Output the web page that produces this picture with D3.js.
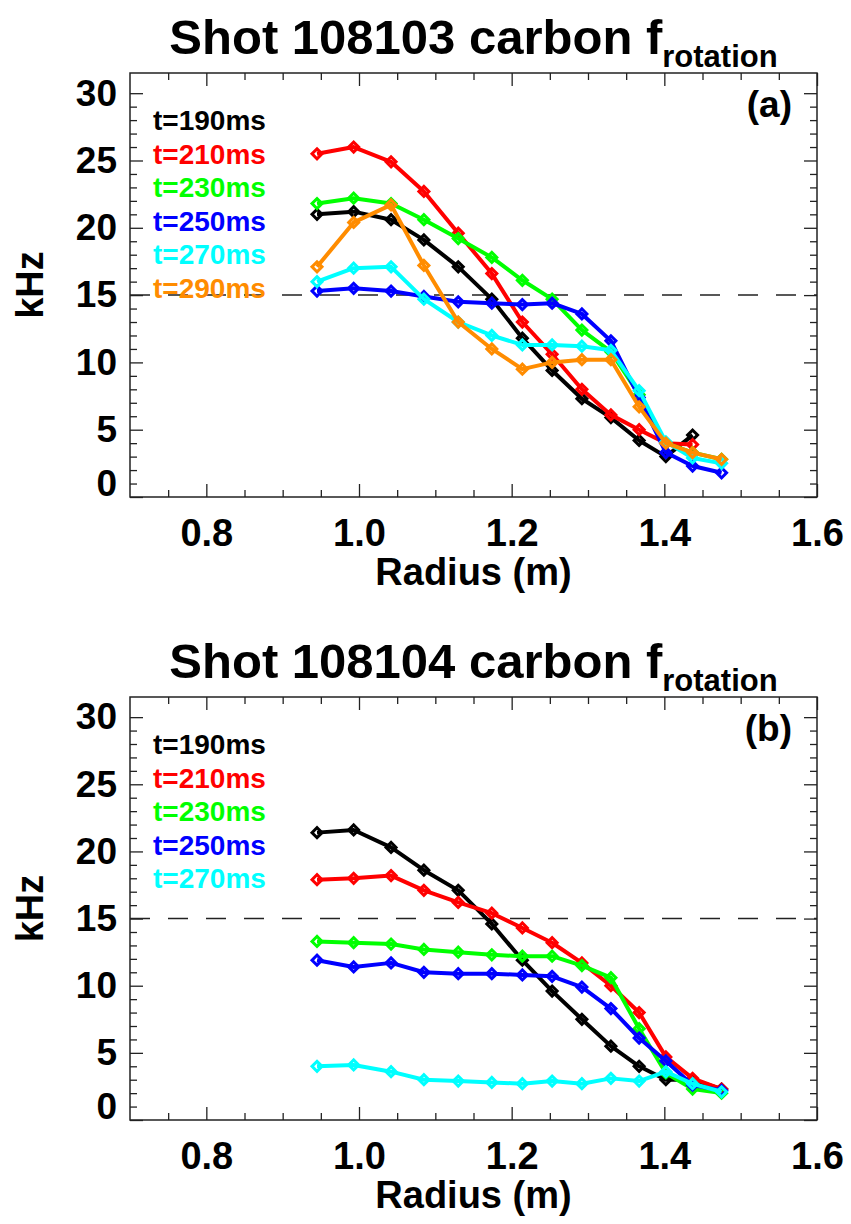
<!DOCTYPE html>
<html>
<head>
<meta charset="utf-8">
<script src="https://cdn.jsdelivr.net/npm/d3@7"></script>
<style>
  body { margin: 0; background: #fff; }
  text { font-family: "Liberation Sans", Arial, Helvetica, sans-serif; font-weight: bold; }
</style>
</head>
<body>
<div id="chart"></div>
<script>
// radius of each measurement chord (m)
const radius = [0.945, 0.993, 1.042, 1.085, 1.130, 1.174, 1.214, 1.253, 1.292, 1.330, 1.367, 1.402, 1.437, 1.475];

const times = ["t=190ms", "t=210ms", "t=230ms", "t=250ms", "t=270ms", "t=290ms"];
const colors = ["#000000", "#ff0000", "#00ff00", "#0000ff", "#00ffff", "#ff8c00"];

// shot 108103 (kHz), null = no point
const shotA_190 = [21.0, 21.2, 20.6, 19.1, 17.1, 14.7, 11.8, 9.4, 7.3, 5.9, 4.2, 3.0, 4.6, null];
const shotA_210 = [25.5, 26.0, 24.9, 22.7, 19.6, 16.6, 13.0, 10.6, 8.0, 6.1, 5.0, 4.0, 3.9, null];
const shotA_230 = [21.8, 22.2, 21.8, 20.6, 19.2, 17.8, 16.1, 14.7, 12.4, 10.8, 7.6, 4.0, 3.3, 2.8];
const shotA_250 = [15.3, 15.5, 15.3, 14.9, 14.5, 14.4, 14.3, 14.4, 13.6, 11.6, 7.4, 3.3, 2.3, 1.8];
const shotA_270 = [16.0, 17.0, 17.1, 14.7, 13.0, 12.0, 11.3, 11.3, 11.2, 10.9, 7.9, 4.1, 2.9, 2.5];
const shotA_290 = [17.1, 20.4, 21.7, 17.2, 13.0, 11.0, 9.5, 10.0, 10.2, 10.2, 6.7, 4.0, 3.3, 2.8];

// shot 108104 (kHz)
const shotB_190 = [21.4, 21.6, 20.3, 18.6, 17.1, 14.6, 11.9, 9.6, 7.5, 5.5, 4.0, 3.0, 3.0, 2.3];
const shotB_210 = [17.9, 18.0, 18.2, 17.1, 16.2, 15.4, 14.3, 13.2, 11.7, 10.0, 8.0, 4.7, 3.1, 2.3];
const shotB_230 = [13.3, 13.2, 13.1, 12.7, 12.5, 12.3, 12.2, 12.2, 11.5, 10.6, 6.8, 3.5, 2.3, 2.0];
const shotB_250 = [11.9, 11.4, 11.7, 11.0, 10.9, 10.9, 10.8, 10.7, 9.9, 8.3, 6.1, 4.4, 2.6, 2.2];
const shotB_270 = [4.0, 4.1, 3.6, 3.0, 2.9, 2.8, 2.7, 2.9, 2.7, 3.1, 2.9, 3.6, 2.7, 2.1];

const xTicks = [0.8, 1.0, 1.2, 1.4, 1.6];
const yTicks = [0, 5, 10, 15, 20, 25, 30];
const refLine = 15;

const layout = {
  width: 851,
  height: 1224,
  left: 130,
  right: 817,
  tickMajor: 13,
  tickMinor: 7
};

const svg = d3.select("#chart").append("svg")
  .attr("width", layout.width)
  .attr("height", layout.height)
  .attr("viewBox", [0, 0, layout.width, layout.height].join(" "));

svg.append("rect").attr("width", layout.width).attr("height", layout.height).attr("fill", "#fff");

const xScale = d3.scaleLinear().domain([0.7, 1.6]).range([layout.left, layout.right]);
const xMinor = d3.range(0.75, 1.6, 0.05).filter(v => xTicks.every(t => Math.abs(t - v) > 0.01));
const yMinor = d3.range(1, 31, 1).filter(v => v % 5 !== 0);

function drawPanel(p) {
  const yScale = d3.scaleLinear().domain([0, 31.5]).range([p.bottom, p.top]);
  const g = svg.append("g");

  // title with subscript
  const title = g.append("text")
    .attr("x", (layout.left + layout.right) / 2)
    .attr("y", p.top - 19)
    .attr("text-anchor", "middle")
    .attr("font-size", 49)
    .attr("fill", "#000");
  title.append("tspan").text(p.title + " carbon f");
  title.append("tspan").attr("font-size", 31).attr("dy", 13).text("rotation");

  // axes, ticks pointing inward
  const tickStyle = a => {
    a.select(".domain").remove();
    a.selectAll("line").attr("stroke", "#222").attr("stroke-width", 1.3);
    a.selectAll("text").attr("font-size", 37).attr("fill", "#000")
      .style("font-family", "'Liberation Sans', Arial, sans-serif").style("font-weight", "bold");
  };
  const bottomG = g.append("g").attr("transform", `translate(0,${p.bottom})`);
  bottomG.call(d3.axisBottom(xScale).tickValues(xTicks).tickSize(-layout.tickMajor).tickPadding(22).tickFormat(d3.format(".1f"))).call(tickStyle);
  bottomG.selectAll("text").attr("font-size", 38);
  g.append("g").attr("transform", `translate(0,${p.bottom})`)
    .call(d3.axisBottom(xScale).tickValues(xMinor).tickSize(-layout.tickMinor).tickFormat("")).call(tickStyle);
  g.append("g").attr("transform", `translate(0,${p.top})`)
    .call(d3.axisTop(xScale).tickValues(xTicks).tickSize(-layout.tickMajor).tickFormat("")).call(tickStyle);
  g.append("g").attr("transform", `translate(0,${p.top})`)
    .call(d3.axisTop(xScale).tickValues(xMinor).tickSize(-layout.tickMinor).tickFormat("")).call(tickStyle);

  const leftG = g.append("g").attr("transform", `translate(${layout.left},0)`);
  leftG.call(d3.axisLeft(yScale).tickValues(yTicks).tickSize(-layout.tickMajor).tickPadding(13)).call(tickStyle);
  leftG.selectAll(".tick text").filter(d => d === 0).attr("dy", "-0.05em");
  g.append("g").attr("transform", `translate(${layout.left},0)`)
    .call(d3.axisLeft(yScale).tickValues(yMinor).tickSize(-layout.tickMinor).tickFormat("")).call(tickStyle);
  g.append("g").attr("transform", `translate(${layout.right},0)`)
    .call(d3.axisRight(yScale).tickValues(yTicks).tickSize(-layout.tickMajor).tickFormat("")).call(tickStyle);
  g.append("g").attr("transform", `translate(${layout.right},0)`)
    .call(d3.axisRight(yScale).tickValues(yMinor).tickSize(-layout.tickMinor).tickFormat("")).call(tickStyle);

  // frame
  g.append("rect")
    .attr("x", layout.left).attr("y", p.top)
    .attr("width", layout.right - layout.left).attr("height", p.bottom - p.top)
    .attr("fill", "none").attr("stroke", "#222").attr("stroke-width", 1.5);

  // axis titles
  g.append("text")
    .attr("x", (layout.left + layout.right) / 2)
    .attr("y", p.bottom + 88)
    .attr("text-anchor", "middle")
    .attr("font-size", 38)
    .text("Radius (m)");
  g.append("text")
    .attr("transform", `translate(43,${(p.top + p.bottom) / 2}) rotate(-90)`)
    .attr("text-anchor", "middle")
    .attr("font-size", 38)
    .text("kHz");

  // dashed reference
  g.append("line")
    .attr("x1", layout.left).attr("x2", layout.right)
    .attr("y1", yScale(refLine)).attr("y2", yScale(refLine))
    .attr("stroke", "#222").attr("stroke-width", 1.5)
    .attr("stroke-dasharray", "20,18");

  // panel letter
  g.append("text")
    .attr("x", 792).attr("y", p.top + 44)
    .attr("text-anchor", "end")
    .attr("font-size", 37)
    .text(p.letter);

  // legend
  p.series.forEach((s, i) => {
    g.append("text")
      .attr("x", 153).attr("y", p.top + 57 + i * 33.5)
      .attr("font-size", 28)
      .attr("fill", colors[i])
      .text(times[i]);
  });

  // lines and diamonds
  const line = d3.line()
    .defined(d => d[1] !== null)
    .x(d => xScale(d[0]))
    .y(d => yScale(d[1]));
  const diamond = d3.symbol(d3.symbolSquare, 50);

  p.series.forEach((s, i) => {
    const pts = radius.map((r, k) => [r, s[k]]);
    g.append("path")
      .datum(pts)
      .attr("fill", "none")
      .attr("stroke", colors[i])
      .attr("stroke-width", 4)
      .attr("stroke-linejoin", "round")
      .attr("d", line);
    g.append("g").selectAll("path")
      .data(pts.filter(d => d[1] !== null))
      .join("path")
      .attr("transform", d => `translate(${xScale(d[0])},${yScale(d[1])}) rotate(45)`)
      .attr("d", diamond)
      .attr("fill", "none")
      .attr("stroke", colors[i])
      .attr("stroke-width", 3);
  });
}

drawPanel({
  title: "Shot 108103", letter: "(a)", top: 73, bottom: 497,
  series: [shotA_190, shotA_210, shotA_230, shotA_250, shotA_270, shotA_290]
});
drawPanel({
  title: "Shot 108104", letter: "(b)", top: 697, bottom: 1120,
  series: [shotB_190, shotB_210, shotB_230, shotB_250, shotB_270]
});
</script>
</body>
</html>
